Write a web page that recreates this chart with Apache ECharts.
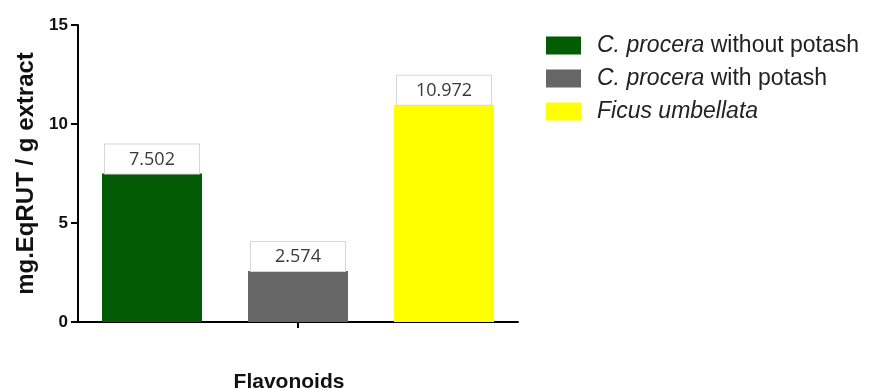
<!DOCTYPE html>
<html>
<head>
<meta charset="utf-8">
<script src="https://cdn.jsdelivr.net/npm/echarts@6/dist/echarts.min.js"></script>
<style>
  html, body { margin: 0; padding: 0; background: #fff; }
  #chart { width: 873px; height: 389px; }
</style>
</head>
<body>
<div id="chart"></div>
<script>
// Total flavonoid content (mg rutin equivalents per g extract)
const categories = ['Flavonoids'];
const seriesNames = ['C. procera without potash', 'C. procera with potash', 'Ficus umbellata'];
const withoutPotash = [7.502];
const withPotash = [2.574];
const ficus = [10.972];
const yTicks = [0, 5, 10, 15];

const colors = ['#035c03', '#666666', '#ffff00'];
const valuesList = [withoutPotash, withPotash, ficus];

const chart = echarts.init(document.getElementById('chart'));

const valueLabel = {
  show: true,
  position: 'top',
  distance: 0,
  formatter: p => p.value.toFixed(3),
  fontFamily: 'Open Sans',
  fontSize: 18,
  color: '#3a3a3a',
  backgroundColor: '#fff',
  borderColor: '#d6d6d6',
  borderWidth: 1,
  width: 94,
  align: 'center',
  lineHeight: 20,
  padding: [5, 0, 4, 0]
};

chart.setOption({
  animation: false,
  backgroundColor: '#fff',
  grid: { left: 78, top: 25, right: 355, bottom: 67, outerBoundsMode: 'none', containLabel: false },
  legend: {
    orient: 'vertical',
    left: 541,
    top: 29,
    itemWidth: 35,
    itemHeight: 18,
    itemGap: 10,
    icon: 'rect',
    data: seriesNames,
    formatter: name => {
      if (name.startsWith('C. procera')) {
        return '{i|C. procera}' + name.slice('C. procera'.length);
      }
      return '{i|' + name + '}';
    },
    textStyle: {
      fontFamily: 'Liberation Sans',
      fontSize: 23,
      color: '#222',
      padding: [0, 0, 0, 11],
      rich: {
        i: { fontStyle: 'italic', fontFamily: 'Liberation Sans', fontSize: 23, color: '#222' }
      }
    }
  },
  xAxis: {
    type: 'category',
    data: categories,
    axisLine: { lineStyle: { color: '#000', width: 2 } },
    axisTick: { show: true, length: 6, alignWithLabel: true, lineStyle: { color: '#000', width: 2 } },
    axisLabel: {
      margin: 50,
      padding: [0, 18, 0, 0],
      fontFamily: 'Liberation Sans',
      fontWeight: 'bold',
      fontSize: 21,
      color: '#111'
    }
  },
  yAxis: {
    type: 'value',
    min: yTicks[0],
    max: yTicks[yTicks.length - 1],
    interval: yTicks[1] - yTicks[0],
    name: 'mg.EqRUT / g extract',
    nameLocation: 'middle',
    nameGap: 39,
    nameTextStyle: {
      fontFamily: 'Liberation Sans',
      fontWeight: 'bold',
      fontSize: 24,
      color: '#111'
    },
    splitLine: { show: false },
    axisLine: { show: true, lineStyle: { color: '#000', width: 2 } },
    axisTick: { show: true, length: 7, lineStyle: { color: '#000', width: 2 } },
    axisLabel: {
      margin: 10,
      fontFamily: 'Liberation Sans',
      fontWeight: 'bold',
      fontSize: 17,
      color: '#111'
    }
  },
  series: seriesNames.map((name, i) => ({
    name,
    type: 'bar',
    data: valuesList[i],
    barWidth: 100,
    barGap: '46%',
    itemStyle: { color: colors[i] },
    label: valueLabel
  }))
});
</script>
</body>
</html>
